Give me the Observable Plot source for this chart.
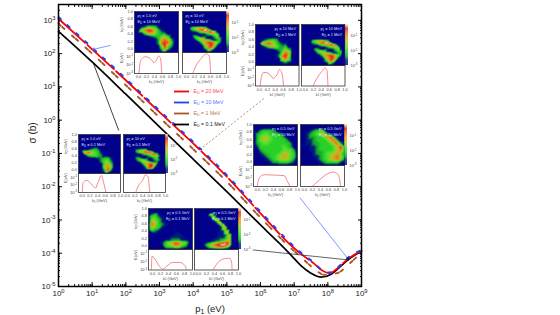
<!DOCTYPE html>
<html><head><meta charset="utf-8">
<script src="https://cdn.jsdelivr.net/npm/d3@7"></script>
<script src="https://cdn.jsdelivr.net/npm/@observablehq/plot@0.6"></script>
<style>
html,body{margin:0;padding:0;background:#fff;width:560px;height:315px;overflow:hidden}
#chart{position:relative;width:560px;height:315px;font-family:"Liberation Sans",Arial,sans-serif}
#chart svg{position:absolute;display:block}
</style></head><body><div id="chart"></div>
<script>
// ---- main curves: log10(p1/eV), log10(sigma/b)
const logP20 = [0,1,2,3,4,5,6,7,7.2,7.6,7.8,8.05,8.3,8.6,9];
const sig20  = [3.05,2.13,1.2,0.24,-0.7,-1.7,-2.8,-3.85,-4.02,-4.32,-4.5,-4.6,-4.44,-4.17,-3.93];
const logP10 = [0,1,2,3,4,5,6,7,7.2,7.6,7.8,8.05,8.3,8.6,9];
const sig10  = [3.1,2.18,1.25,0.29,-0.65,-1.65,-2.75,-3.8,-3.98,-4.29,-4.48,-4.58,-4.42,-4.13,-3.9];
const logP1  = [0,1,2,3,4,5,6,6.96,7.26,7.56,7.9,8.3,8.63,9];
const sig1   = [2.9,2,1.05,0.08,-0.87,-1.85,-2.93,-3.9,-4.17,-4.44,-4.65,-4.59,-4.32,-3.98];
const logP01 = [0,1,2,3,4,5,6,6.55,6.9,7.2,7.5,7.8,8.1,8.33,8.6,9];
const sig01  = [2.67,1.75,0.78,-0.2,-1.17,-2.15,-3.15,-3.69,-4.05,-4.37,-4.6,-4.72,-4.63,-4.44,-4.2,-3.93];
const xMajor = [0,1,2,3,4,5,6,7,8,9];
const yMajor = [-5,-4,-3,-2,-1,0,1,2,3];
// annotation leaders: [logP start, logS start, logP end, logS end]
const leaderBlueTop  = [1.55,2.25,1.04,2.13];
const leaderBlackTop = [1.79,-0.31,1.04,1.7];
const leaderBrown    = [6.1,0.65,4.23,-0.86];
const leaderBlackLow = [5.77,-3.9,8.6,-4.2];
const leaderBlueLow  = [7.17,-2.33,8.6,-4.17];
// legend
const legendNames  = ["E_D = 20 MeV","E_D = 10 MeV","E_D = 1 MeV","E_D = 0.1 MeV"];
const legendColors = ["#ff0000","#1f3fff","#a5562a","#000000"];
const legendText   = ["#ff5050","#5a78ff","#b5794f","#222222"];
// heat-map colour ramp
const rampLevels = [0,1,1.6,2,3,4,5,6,7,8,9];
const rampColors = ["#00008a","#001a80","#0a7a40","#18a830","#28d028","#50e030","#a8c820","#e0a020","#e87018","#d82818","#ffffd0"];
// inset maps (digit = colour level, top row = highest k2)
const mapA1 = ["00000000000000","00000000000000","00000000000000","00000000000000","00000000000000","00124431000000","00578863100000","00036653220000","00000123453000","00000002676200","00000002787300","00000000484200","00000000272000","00000000000000"];
const mapA2 = ["000000000000000000000","000000000000000000000","000000000000000000000","000000000000000000000","000000000000000000000","000000000000000000000","000000000000000000000","000000000000000000000","000034566543000000000","000023467899520000000","000001123456789300000","000000001112345630000","000002320011112450000","000001345430001243000","000000134665421123000","000000002467887542000","000000000256787520000","000000000036786300000","000000000023764000000","000000000001420000000","000000000000000000000"];
const mapB1 = ["00000000000000","00000000000000","00000000000000","00000000000000","00000000000000","00023431000000","00678642110000","00024553230000","00000012353000","00000001476000","00000002785000","00000000574000","00000000121000","00000000000000"];
const mapB2 = ["000000000000000000000","000000000000000000000","000000000000000000000","000000000000000000000","000000000000000000000","000000000000000000000","000000000000000000000","000000000000000000000","000003456654300000000","000002346789952000000","000000112345678930000","000000000111234563000","000000232001111245000","000000134543000124300","000000013466542112300","000000000246788754200","000000000025678752000","000000000003678630000","000000000002376400000","000000000000142000000","000000000000000000000"];
const mapC1 = ["00000000000000","00000000000000","00000000000000","00000000000000","00000000000000","00002320000000","00785431000000","00034432000000","00000012331000","00000002452000","00000000464000","00000000575000","00000000282000","00000000000000"];
const mapC2 = ["000000000000000000000","000000000000000000000","000000000000000000000","000000000000000000000","000000000000000000000","000000000000000000000","000000000000000000000","000000000000000000000","000000234454000000000","000000235678963000000","000000011234567830000","000000000111234552000","000000232001112340000","000000134543001232000","000000012465421120000","000000000246787520000","000000000025787400000","000000000003886000000","000000000000000000000","000000000000000000000","000000000000000000000"];
const mapD1 = ["00000000000000","00000000000000","00233320000000","02344333200000","02455433320000","02455433332000","02344333333200","01333333343200","00233333344420","00123333455430","00012334565430","00001234555420","00000122333210","00000000000000"];
const mapD2 = ["00000000000000","00000000000000","00012342000000","00123456200000","00122334672000","00112333467200","00112233346720","00011233334682","00011233334572","00001223445642","00001123456752","00000123456742","00000012333310","00000000000000"];
const mapE1 = ["00000000000000","00000000000000","02310000000000","04421000000000","05531000000000","07532100000000","06431000000000","03210000000000","00000000110000","00000001111000","00000112221100","00001356875410","00000344663200","00000000000000"];
const mapE2 = ["000000000000000000000","000000000000000000000","000000000000000000000","000000046000000000000","000000004600000000000","000000001460000000000","000000000146000000000","000000000014600000000","000000000001460000000","000000000000146000000","000000000000146000000","000000000000114600000","000000000001114600000","000000000001111460000","000000000011112460000","000000000111223460000","000000001122345660000","000001234567889860000","000002356788998650000","000000234556664310000","000000000000000000000"];
// inset energy distributions: k (GeV), log10 of yield
const kA1=[.01,.036,.08,.18,.29,.39,.45,.5,.55,.58], yA1=[-3,-1.83,-1.25,-1,-1.2,-1.7,-1.4,-.92,-1.2,-3];
const kA2=[.155,.24,.37,.495,.555,.59,.605], yA2=[-3,-2.05,-1.2,-.67,-.8,-1.83,-3];
const kB1=[.02,.05,.11,.22,.35,.44,.51,.57,.61], yB1=[-3,-1.85,-1.34,-1.43,-2.06,-1.64,-1,-1.43,-3];
const kB2=[.19,.29,.42,.5,.54,.57], yB2=[-3,-2.06,-1.2,-.8,-1,-3];
const kC1=[0,.02,.125,.23,.35,.41,.5,.57,.62], yC1=[-3,-1.7,-1.4,-1.85,-2.4,-1.7,-.76,-1.95,-3];
const kC2=[.22,.31,.39,.48,.54,.57,.59], yC2=[-3,-1.95,-1.48,-.67,-.9,-1.95,-3];
const kD1=[-.01,.05,.17,.42,.67,.75,.81], yD1=[-3,-1.92,-1.6,-1.64,-1.72,-2.4,-3];
const kD2=[.19,.38,.58,.71,.82,.88,.9], yD2=[-3,-2.2,-1.48,-1.28,-1.48,-2.2,-3];
const kE1=[-.03,-.01,.05,.18,.26,.39,.51,.68,.81,.85], yE1=[-3,-1.3,-1.6,-2.57,-2.9,-2.38,-2.08,-2.08,-2.46,-3];
const kE2=[.36,.48,.65,.78,.83,.84], yE2=[-3,-2.13,-1.62,-1.57,-2.13,-3];
const kTicks = [0,.2,.4,.6,.8,1];

const FONT='"Liberation Sans",Arial,sans-serif';
const chart=document.getElementById("chart");
const svgStyle=(fs)=>({background:"transparent",overflow:"visible",fontFamily:FONT,fontSize:fs+"px"});
const pair=(a,b)=>a.map((v,i)=>({x:10**v,y:10**b[i]}));
function place(svg,left,top){svg.style.left=left+"px";svg.style.top=top+"px";chart.appendChild(svg);rich(svg);}
function rich(svg){
  svg.querySelectorAll("text").forEach(t=>{
    const s=t.textContent;
    if(!/[\^_]/.test(s)) return;
    const fs=parseFloat(getComputedStyle(t).fontSize)||8;
    const parts=s.split(/([\^_]-?\w+)/);
    t.textContent="";
    let back=0;
    const NS="http://www.w3.org/2000/svg";
    parts.filter(p=>p!=="").forEach(p=>{
      const sp=document.createElementNS(NS,"tspan");
      if(/^[\^_]/.test(p)){
        const d=(p[0]==="^"?-0.38:0.22)*fs;
        sp.textContent=p.slice(1);
        sp.setAttribute("font-size",(fs*0.72)+"px");
        sp.setAttribute("dy",d+back);
        back=-d;
      } else {
        sp.textContent=p;
        sp.setAttribute("dy",back);
        back=0;
      }
      t.appendChild(sp);
    });
  });
}

// ---- main plot
const minorX=d3.scaleLog().domain([1,1e9]).ticks().filter(v=>v>=1&&v<=1e9);
const minorY=d3.scaleLog().domain([1e-5,3000]).ticks();
const expX=xMajor.map(e=>10**e), expY=yMajor.map(e=>10**e);
const leader=(l,opts)=>Plot.link([l],{x1:d=>10**d[0],y1:d=>10**d[1],x2:d=>10**d[2],y2:d=>10**d[3],...opts});
const fmt=v=>"10^"+Math.round(Math.log10(v));
const main=Plot.plot({
  width:560,height:315,marginLeft:58,marginRight:199,marginTop:4,marginBottom:29,
  style:svgStyle(8),
  x:{type:"log",domain:[1,1e9],axis:null},
  y:{type:"log",domain:[1e-5,3000],axis:null},
  marks:[
    Plot.axisX({anchor:"bottom",ticks:minorX,tickSize:-2,tickFormat:()=>null,label:null,stroke:"#111"}),
    Plot.axisX({anchor:"top",ticks:minorX,tickSize:-2,tickFormat:()=>null,label:null,stroke:"#111"}),
    Plot.axisY({anchor:"left",ticks:minorY,tickSize:-2,tickFormat:()=>null,label:null,stroke:"#111"}),
    Plot.axisY({anchor:"right",ticks:minorY,tickSize:-2,tickFormat:()=>null,label:null,stroke:"#111"}),
    Plot.axisX({anchor:"bottom",ticks:expX,tickSize:-4,tickPadding:8,tickFormat:fmt,label:null,fill:"#222",stroke:"#111"}),
    Plot.axisX({anchor:"top",ticks:expX,tickSize:-4,tickFormat:()=>null,label:null,stroke:"#111"}),
    Plot.axisY({anchor:"left",ticks:expY,tickSize:-4,tickPadding:7,tickFormat:fmt,label:null,fill:"#222",stroke:"#111"}),
    Plot.axisY({anchor:"right",ticks:expY,tickSize:-4,tickFormat:()=>null,label:null,stroke:"#111"}),
    Plot.line(pair(logP01,sig01),{x:"x",y:"y",stroke:"#000",strokeWidth:1.7,curve:"monotone-x"}),
    Plot.line(pair(logP20,sig20),{x:"x",y:"y",stroke:"#ff0000",strokeWidth:1.8,curve:"monotone-x",strokeDasharray:"36,3"}),
    Plot.line(pair(logP10,sig10),{x:"x",y:"y",stroke:"#1f3fff",strokeWidth:1.9,curve:"monotone-x",strokeDasharray:"3,9"}),
    Plot.line(pair(logP1,sig1),{x:"x",y:"y",stroke:"#a5562a",strokeWidth:1.9,curve:"monotone-x",strokeDasharray:"3,2,3,10"}),
    leader(leaderBlueTop,{stroke:"#4a6cff",strokeWidth:0.7,markerEnd:"arrow"}),
    leader(leaderBlackTop,{stroke:"#111",strokeWidth:0.8}),
    leader(leaderBrown,{stroke:"#a5562a",strokeWidth:0.7,strokeDasharray:"2,2"}),
    leader(leaderBlackLow,{stroke:"#222",strokeWidth:0.7}),
    leader(leaderBlueLow,{stroke:"#4a6cff",strokeWidth:0.7}),
    Plot.dot([[leaderBlueLow[2],leaderBlueLow[3]]],{x:d=>10**d[0],y:d=>10**d[1],r:1.6,fill:"#123",stroke:"none"}),
    Plot.frame({stroke:"#000",strokeWidth:1.5}),
    Plot.text(["p_1 (eV)"],{frameAnchor:"bottom",dy:25,fontSize:9.5,fill:"#222"}),
    Plot.text(["σ (b)"],{frameAnchor:"left",dx:-26,dy:-2,rotate:-90,fontSize:10,fill:"#222"})
  ]
});
place(main,0,0);

// ---- legend
const legend=Plot.plot({
  width:60,height:40,margin:0,style:svgStyle(5.2),
  x:{domain:[0,60],axis:null},y:{type:"point",domain:legendNames,axis:null,padding:0.25},
  marks:[
    Plot.ruleY(legendNames,{y:d=>d,x1:0,x2:15,stroke:(d,i)=>legendColors[i],strokeWidth:1.8}),
    Plot.text(legendNames,{y:d=>d,x:19,text:d=>d,textAnchor:"start",fill:(d,i)=>legendText[i]})
  ]
});
place(legend,174,86.5);

// ---- insets
const gridPts=rows=>{const n=rows.length,m=rows[0].length,o=[];
  rows.forEach((r,j)=>[...r].forEach((c,i)=>o.push({x:-0.1+1.1*i/(m-1),y:1-1.1*j/(n-1),v:+c})));return o;};
const KX={domain:[-0.1,1],axis:null};
const color={type:"linear",domain:rampLevels,range:rampColors,interpolate:"rgb"};
const tinyF=v=>v.toFixed(1);
function heat(left,top,w,h,rows,txt,right,leftAxis){
  const fa=right?"top-right":"top-left", dx=right?-3:3;
  const s=Plot.plot({width:w,height:h,margin:0,style:svgStyle(3.9),x:KX,y:{domain:[-0.1,1],axis:null},color,
    marks:[
      Plot.raster(gridPts(rows),{x:"x",y:"y",fill:"v",interpolate:"barycentric",pixelSize:1}),
      Plot.frame({stroke:"#333",strokeWidth:0.8}),
      Plot.text([txt[0]],{frameAnchor:fa,dx,dy:3,fill:"#dfe6ff"}),
      Plot.text([txt[1]],{frameAnchor:fa,dx,dy:8.5,fill:"#dfe6ff"}),
      ...(leftAxis?[
        Plot.axisY({ticks:kTicks,tickSize:0,tickPadding:1.5,tickFormat:tinyF,label:null,fill:"#444"}),
        Plot.text(["k_2 (GeV)"],{frameAnchor:"left",dx:-13,rotate:-90,fill:"#444"})
      ]:[])
    ]});
  place(s,left,top);
}
function dist(left,top,w,h,k,ly,leftAxis){
  const s=Plot.plot({width:w,height:h,margin:0,style:svgStyle(3.9),x:KX,y:{type:"log",domain:[1e-3,10**-0.5],axis:null},
    marks:[
      Plot.line(k.map((v,i)=>({x:v,y:10**ly[i]})),{x:"x",y:"y",stroke:"#f46a6a",strokeWidth:0.8,curve:"monotone-x",clip:true}),
      Plot.frame({stroke:"#333",strokeWidth:0.8}),
      Plot.axisX({ticks:kTicks,tickSize:0,tickPadding:2,tickFormat:tinyF,label:null,fill:"#444"}),
      Plot.text(["k_1 (GeV)"],{frameAnchor:"bottom",dy:9.5,fill:"#444"}),
      ...(leftAxis?[
        Plot.axisY({ticks:[.1,.01,.001],tickSize:0,tickPadding:1.5,tickFormat:fmt,label:null,fill:"#444"}),
        Plot.text(["E(eV)"],{frameAnchor:"left",dx:-13,rotate:-90,fill:"#444"})
      ]:[])
    ]});
  place(s,left,top);
}
function bar(left,top,h){
  const lv=d3.range(0,9,0.1);
  const s=Plot.plot({width:16,height:h,marginLeft:0,marginTop:0,marginBottom:0,marginRight:13,style:svgStyle(3.9),x:{domain:[0,1],axis:null},y:{type:"log",domain:[1e-3,10**-0.2],axis:null},color,
    marks:[
      Plot.rectY(lv,{x1:()=>0,x2:()=>1,y1:d=>10**(-3+d/9*2.8),y2:d=>10**(-3+(d+0.12)/9*2.8),fill:d=>d,inset:0}),
      Plot.axisY({anchor:"right",ticks:[.1,.01,.001],tickSize:0,tickPadding:2,tickFormat:fmt,label:null,fill:"#444"})
    ]});
  place(s,left,top);
}
function group(g){
  heat(g.x1,g.y,g.w,g.hh,g.m1,g.t1,g.right,true);
  heat(g.x2,g.y,g.w,g.hh,g.m2,g.t2,g.right,false);
  dist(g.x1,g.y+g.hh,g.w,g.lh,g.k1,g.v1,true);
  dist(g.x2,g.y+g.hh,g.w,g.lh,g.k2,g.v2,false);
  bar(g.x2+g.w+0.5,g.y,g.hh);
}
group({x1:134,x2:181.5,w:44,y:11,hh:41,lh:21,m1:mapA1,m2:mapA2,k1:kA1,v1:yA1,k2:kA2,v2:yA2,
  t1:["p_1 = 1.0 eV","E_D = 10 MeV"],t2:["p_1 = 10 eV","E_D = 10 MeV"],right:false});
group({x1:254.5,x2:301,w:43.5,y:24,hh:41,lh:20.5,m1:mapB1,m2:mapB2,k1:kB1,v1:yB1,k2:kB2,v2:yB2,
  t1:["p_1 = 10 MeV","E_D = 1 MeV"],t2:["p_1 = 10 MeV","E_D = 1 MeV"],right:true});
group({x1:77.5,x2:122.5,w:42,y:134,hh:39,lh:19,m1:mapC1,m2:mapC2,k1:kC1,v1:yC1,k2:kC2,v2:yC2,
  t1:["p_1 = 1.0 eV","E_D = 0.1 MeV"],t2:["p_1 = 10 eV","E_D = 0.1 MeV"],right:false});
group({x1:252.5,x2:299.5,w:44,y:124,hh:41,lh:21,m1:mapD1,m2:mapD2,k1:kD1,v1:yD1,k2:kD2,v2:yD2,
  t1:["p_1 = 0.5 GeV","E_D = 10 MeV"],t2:["p_1 = 0.5 GeV","E_D = 10 MeV"],right:true});
group({x1:147.5,x2:193.5,w:44,y:207.5,hh:41,lh:20.5,m1:mapE1,m2:mapE2,k1:kE1,v1:yE1,k2:kE2,v2:yE2,
  t1:["p_1 = 0.5 GeV","E_D = 0.1 MeV"],t2:["p_1 = 0.5 GeV","E_D = 0.1 MeV"],right:true});
</script></body></html>
